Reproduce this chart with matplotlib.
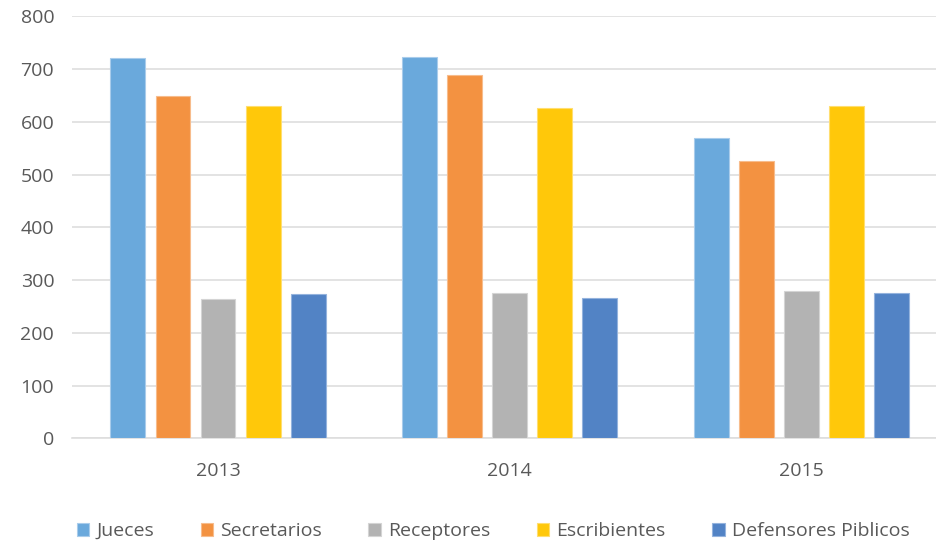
import matplotlib
matplotlib.use("Agg")
import matplotlib.pyplot as plt
import numpy as np

years = ["2013", "2014", "2015"]
series_names = ["Jueces", "Secretarios", "Receptores", "Escribientes", "Defensores Piblicos"]
jueces = [720, 723, 570]
secretarios = [648, 689, 526]
receptores = [265, 275, 279]
escribientes = [629, 626, 629]
defensores = [273, 266, 275]
yticks = [0, 100, 200, 300, 400, 500, 600, 700, 800]

colors = ["#6AA9DC", "#F39241", "#B3B3B3", "#FFC80A", "#5283C5"]
edges = ["#A9CCEB", "#F7BC8C", "#D4D4D4", "#FFDE70", "#94B3DD"]

plt.rcParams['font.family'] = ['Open Sans', 'DejaVu Sans']
txt = "#595959"

fig = plt.figure(figsize=(9.36, 5.43), dpi=100)
ax = fig.add_axes([72.25/936, 0.1928, 1 - 72.25/936, 0.970 - 0.1928])

data = [jueces, secretarios, receptores, escribientes, defensores]
x = np.arange(len(years))
step = 0.1544
width = 0.12
for i, (name, vals) in enumerate(zip(series_names, data)):
    ax.bar(x + (i - 2) * step, vals, width, color=colors[i], edgecolor=edges[i],
           linewidth=0.8, label=name, zorder=3)

ax.set_xlim(-0.5, 2.463)
ax.set_ylim(0, 800)
ax.set_yticks(yticks)
ax.set_xticks(x)
ax.set_xticklabels(years)
ax.yaxis.grid(True, color="#DEDEDE", linewidth=1.2, zorder=0)
ax.tick_params(axis='both', length=0, labelsize=14, colors=txt)
ax.tick_params(axis='y', pad=13)
ax.tick_params(axis='x', pad=17)
for s in ["top", "right", "left"]:
    ax.spines[s].set_visible(False)
ax.spines["bottom"].set_color("#DEDEDE")
ax.spines["bottom"].set_linewidth(1.2)

leg = fig.legend(loc="center", bbox_to_anchor=(493/936, 1 - 531/543), ncol=5,
                 frameon=False, fontsize=14, handlelength=0.65, handleheight=0.65,
                 handletextpad=0.35, columnspacing=2.4)
for t in leg.get_texts():
    t.set_color(txt)

fig.savefig("out.png", dpi=100)
